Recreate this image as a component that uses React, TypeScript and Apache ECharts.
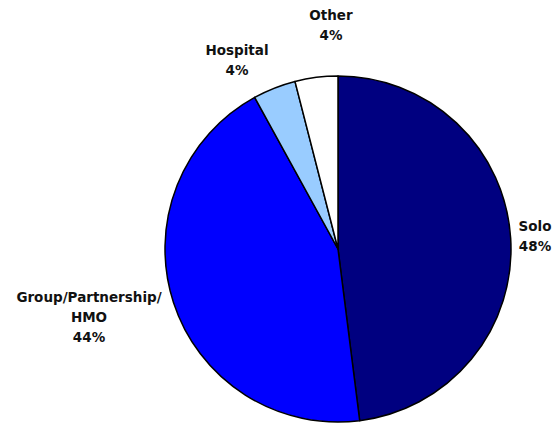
import React, { useEffect, useRef } from "react";
import * as echarts from "echarts";

const categories = ["Solo", "Group/Partnership/\nHMO", "Hospital", "Other"];
const values = [48, 44, 4, 4];
const colors = ["#000080", "#0000FF", "#99CCFF", "#FFFFFF"];
// label centre positions (px) for each slice's label
const labelPos: [number, number][] = [
  [535, 236],
  [89, 317],
  [237, 60],
  [331, 25],
];

export default function App() {
  const ref = useRef<HTMLDivElement>(null);
  useEffect(() => {
    if (!ref.current) return;
    const chart = echarts.init(ref.current, undefined, { renderer: "svg" });
    chart.setOption({
      animation: false,
      backgroundColor: "#ffffff",
      series: [
        {
          type: "pie",
          center: [338, 249],
          radius: [0, 173],
          startAngle: 90,
          clockwise: true,
          silent: true,
          avoidLabelOverlap: false,
          itemStyle: { borderColor: "#000000", borderWidth: 1.5 },
          label: {
            show: true,
            position: "outside",
            alignTo: "none",
            overflow: "none",
            width: 300,
            formatter: (p: any) => `${p.name}\n${p.value}%`,
            fontFamily: "DejaVu Sans",
            fontWeight: "bold",
            fontSize: 13.5,
            lineHeight: 20,
            color: "#111111",
            align: "center",
          },
          labelLine: { show: false },
          labelLayout: (p: any) => ({
            x: labelPos[p.dataIndex][0],
            y: labelPos[p.dataIndex][1],
            align: "center",
            verticalAlign: "middle",
            hideOverlap: false,
          }),
          data: categories.map((c, i) => ({
            name: c,
            value: values[i],
            itemStyle: { color: colors[i] },
          })),
        },
      ],
    });
    return () => chart.dispose();
  }, []);
  return (
    <div
      ref={ref}
      style={{ position: "fixed", left: 0, top: 0, width: 557, height: 426, background: "#fff" }}
    />
  );
}
